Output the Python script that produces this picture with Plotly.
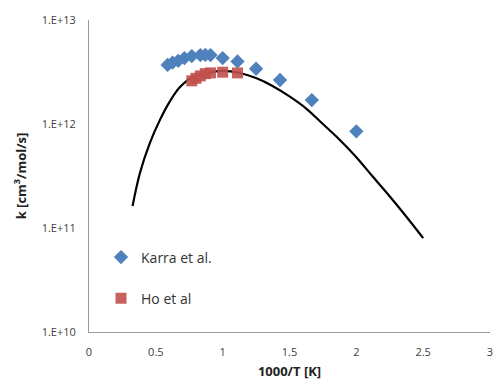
import plotly.graph_objects as go

# Karra et al. data (x = 1000/T, k in cm3/mol/s)
karra_x = [0.588, 0.625, 0.667, 0.714, 0.769, 0.833, 0.870, 0.909, 1.0, 1.111, 1.25, 1.429, 1.667, 2.0]
karra_k = [3.7e12, 3.9e12, 4.05e12, 4.3e12, 4.5e12, 4.6e12, 4.62e12, 4.6e12, 4.3e12, 4.0e12, 3.4e12, 2.65e12, 1.7e12, 8.5e11]

# Ho et al data
ho_x = [0.769, 0.80, 0.833, 0.870, 0.909, 1.0, 1.111]
ho_k = [2.6e12, 2.75e12, 2.9e12, 3.05e12, 3.1e12, 3.15e12, 3.1e12]

# Model curve
curve_x = [0.326, 0.381, 0.455, 0.530, 0.604, 0.679, 0.776, 0.881, 1.0, 1.127, 1.254,
           1.373, 1.5, 1.627, 1.746, 1.873, 2.0, 2.119, 2.246, 2.373, 2.5]
curve_k = [1.63e11, 3.38e11, 6.56e11, 1.09e12, 1.64e12, 2.25e12, 2.83e12, 3.09e12, 3.24e12,
           3.09e12, 2.75e12, 2.32e12, 1.84e12, 1.40e12, 1.01e12, 7.1e11, 4.8e11, 3.16e11,
           2.04e11, 1.29e11, 8.0e10]

y_tickvals = [1e10, 1e11, 1e12, 1e13]
y_ticktext = ["1.E+10", "1.E+11", "1.E+12", "1.E+13"]
x_tickvals = [0, 0.5, 1, 1.5, 2, 2.5, 3]
x_ticktext = ["0", "0.5", "1", "1.5", "2", "2.5", "3"]

fig = go.Figure()
fig.add_trace(go.Scatter(x=curve_x, y=curve_k, mode="lines", line=dict(color="black", width=2.2, shape="spline"),
                         showlegend=False, hoverinfo="skip"))
fig.add_trace(go.Scatter(x=karra_x, y=karra_k, mode="markers", name="Karra et al.", legendgroup="a",
                         marker=dict(symbol="diamond", size=11, color="#4F81BD")))
fig.add_trace(go.Scatter(x=ho_x, y=ho_k, mode="markers", name="Ho et al", legendgroup="b",
                         marker=dict(symbol="square", size=11, color="#C0504D", opacity=0.9)))

font_family = "Open Sans, Liberation Sans, Arial, sans-serif"
fig.update_layout(
    width=499, height=384,
    margin=dict(l=89, r=6, t=20, b=52),
    paper_bgcolor="white", plot_bgcolor="white",
    font=dict(family=font_family, size=11, color="#404040"),
    showlegend=True,
    legend=dict(x=0.03, y=0.29, xanchor="left", yanchor="top", bgcolor="rgba(0,0,0,0)",
                font=dict(size=14, color="#333333"), tracegroupgap=20, traceorder="grouped",
                itemwidth=30),
    xaxis=dict(range=[0, 3], tickvals=x_tickvals, ticktext=x_ticktext, showgrid=False, zeroline=False,
               showline=True, linecolor="#9a9a9a", linewidth=1, ticks="outside", ticklen=10,
               tickcolor="rgba(0,0,0,0)", tickfont=dict(size=11, color="#404040"),
               title=dict(text="<b>1000/T [K]</b>", font=dict(size=13, color="#222222"), standoff=8)),
    yaxis=dict(type="log", range=[10, 13], tickvals=y_tickvals, ticktext=y_ticktext, showgrid=False,
               zeroline=False, showline=True, linecolor="#9a9a9a", linewidth=1, ticks="outside",
               ticklen=10, tickcolor="rgba(0,0,0,0)", tickfont=dict(size=11, color="#404040"),
               title=dict(text="<b>k [cm<sup>3</sup>/mol/s]</b>", font=dict(size=13, color="#222222"), standoff=12)),
)

fig.write_html("out.html")
